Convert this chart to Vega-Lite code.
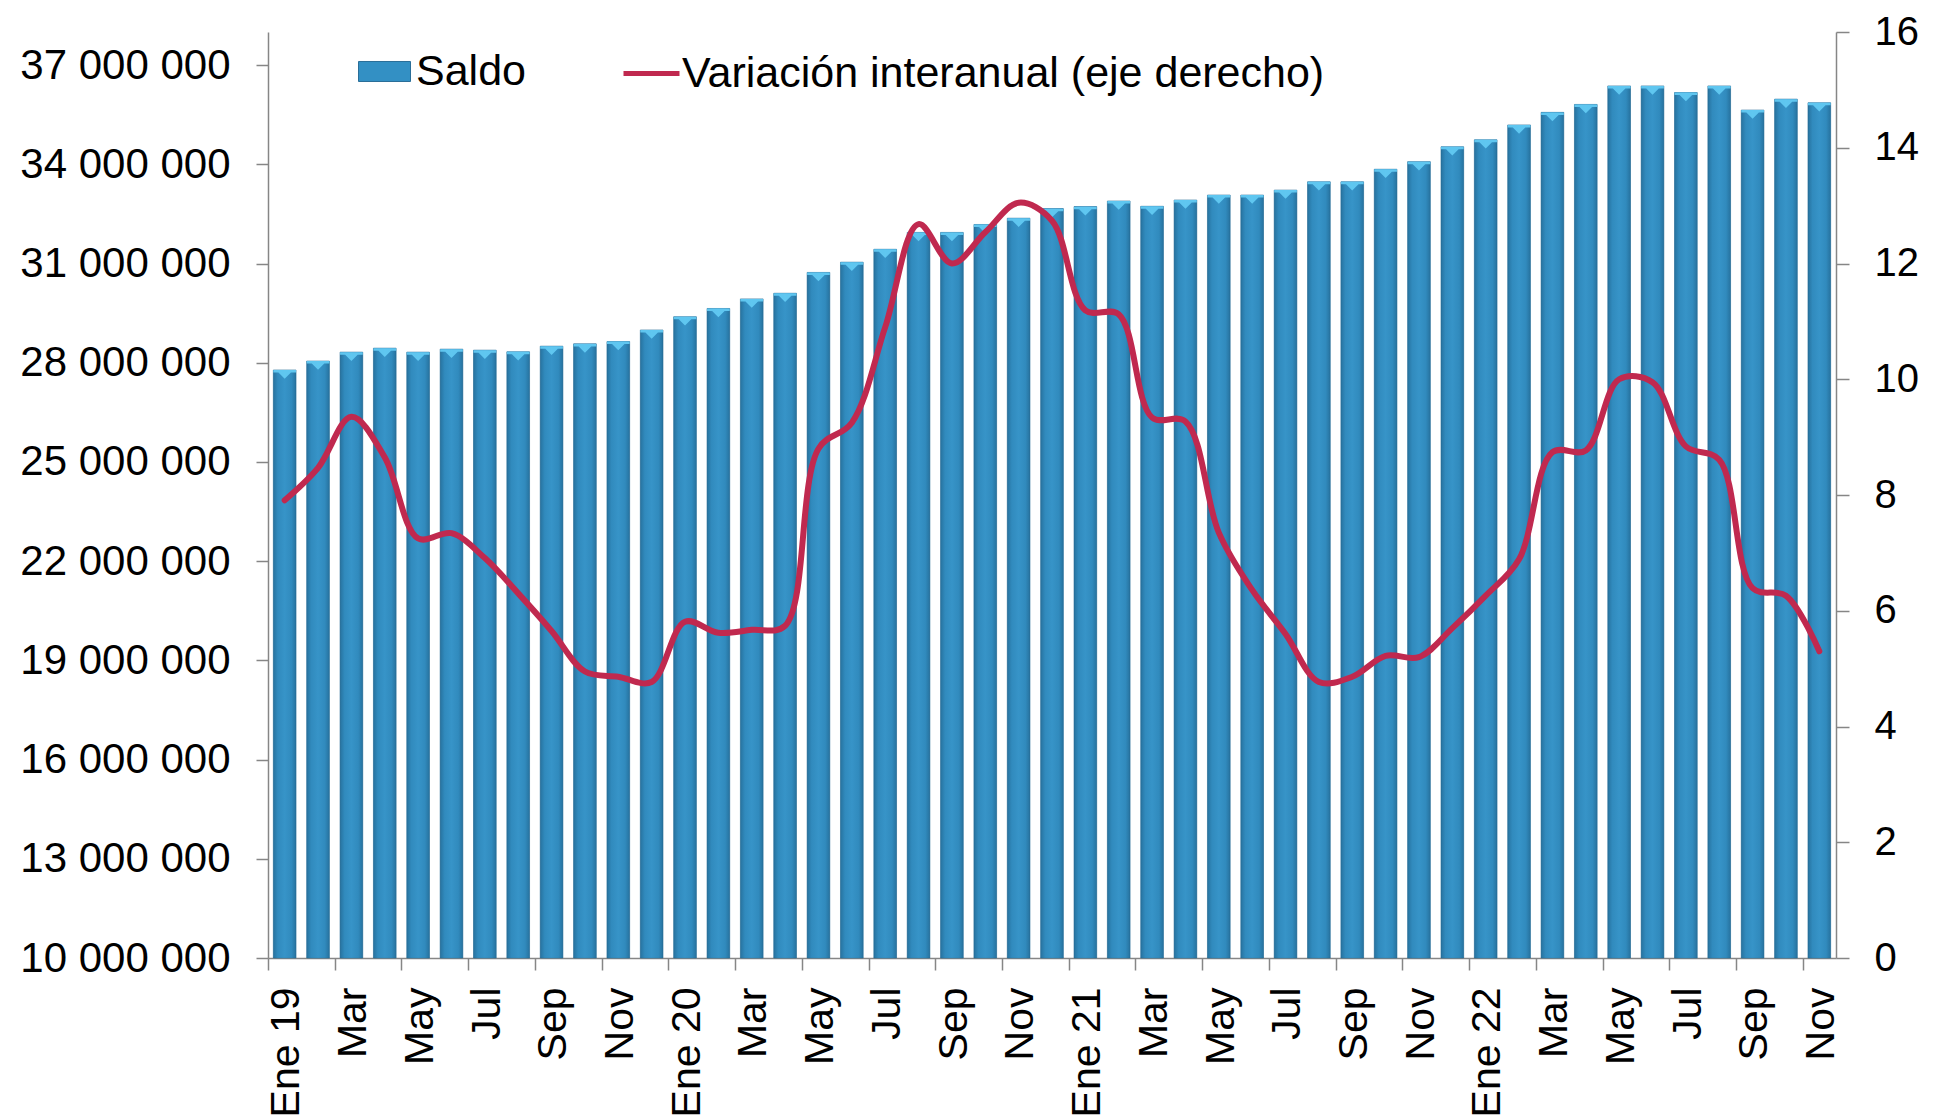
{
  "$schema": "https://vega.github.io/schema/vega-lite/v6.json",
  "width": 1568,
  "height": 926,
  "autosize": {"type": "none"},
  "padding": {"left": 268, "top": 32, "right": 103, "bottom": 160},
  "background": "white",
  "config": {
    "font": "Liberation Sans",
    "view": {"stroke": null},
    "locale": {"number": {"decimal": ",", "thousands": " ", "grouping": [3], "currency": ["", " €"]}},
    "axis": {"labelFont": "Liberation Sans", "labelColor": "#000000", "domainColor": "#868686", "tickColor": "#868686", "domainWidth": 1.5, "tickWidth": 1.5, "grid": false, "labelLimit": 400},
    "legend": {"labelFont": "Liberation Sans", "labelColor": "#000000", "labelFontSize": 43, "padding": 0, "labelLimit": 1000}
  },
  "data": {
    "values": [
      {"mes": "Ene 19", "saldo": 27780000, "variacion": 7.91},
      {"mes": "Feb 19", "saldo": 28050000, "variacion": 8.47},
      {"mes": "Mar 19", "saldo": 28320000, "variacion": 9.35},
      {"mes": "Abr 19", "saldo": 28440000, "variacion": 8.65},
      {"mes": "May 19", "saldo": 28320000, "variacion": 7.25},
      {"mes": "Jun 19", "saldo": 28410000, "variacion": 7.34},
      {"mes": "Jul 19", "saldo": 28380000, "variacion": 6.91},
      {"mes": "Ago 19", "saldo": 28330000, "variacion": 6.3},
      {"mes": "Sep 19", "saldo": 28500000, "variacion": 5.65},
      {"mes": "Oct 19", "saldo": 28570000, "variacion": 4.95},
      {"mes": "Nov 19", "saldo": 28640000, "variacion": 4.86},
      {"mes": "Dic 19", "saldo": 28990000, "variacion": 4.77},
      {"mes": "Ene 20", "saldo": 29390000, "variacion": 5.81},
      {"mes": "Feb 20", "saldo": 29640000, "variacion": 5.62},
      {"mes": "Mar 20", "saldo": 29930000, "variacion": 5.67},
      {"mes": "Abr 20", "saldo": 30100000, "variacion": 5.74},
      {"mes": "May 20", "saldo": 30730000, "variacion": 8.8},
      {"mes": "Jun 20", "saldo": 31040000, "variacion": 9.25},
      {"mes": "Jul 20", "saldo": 31430000, "variacion": 10.9},
      {"mes": "Ago 20", "saldo": 31940000, "variacion": 12.68},
      {"mes": "Sep 20", "saldo": 31940000, "variacion": 12.0},
      {"mes": "Oct 20", "saldo": 32180000, "variacion": 12.54},
      {"mes": "Nov 20", "saldo": 32370000, "variacion": 13.05},
      {"mes": "Dic 20", "saldo": 32660000, "variacion": 12.74},
      {"mes": "Ene 21", "saldo": 32720000, "variacion": 11.19},
      {"mes": "Feb 21", "saldo": 32890000, "variacion": 11.12},
      {"mes": "Mar 21", "saldo": 32730000, "variacion": 9.34},
      {"mes": "Abr 21", "saldo": 32920000, "variacion": 9.27},
      {"mes": "May 21", "saldo": 33070000, "variacion": 7.35},
      {"mes": "Jun 21", "saldo": 33070000, "variacion": 6.36},
      {"mes": "Jul 21", "saldo": 33220000, "variacion": 5.6},
      {"mes": "Ago 21", "saldo": 33470000, "variacion": 4.77},
      {"mes": "Sep 21", "saldo": 33470000, "variacion": 4.86},
      {"mes": "Oct 21", "saldo": 33850000, "variacion": 5.22},
      {"mes": "Nov 21", "saldo": 34080000, "variacion": 5.2},
      {"mes": "Dic 21", "saldo": 34530000, "variacion": 5.7},
      {"mes": "Ene 22", "saldo": 34740000, "variacion": 6.26},
      {"mes": "Feb 22", "saldo": 35190000, "variacion": 6.89},
      {"mes": "Mar 22", "saldo": 35570000, "variacion": 8.74},
      {"mes": "Abr 22", "saldo": 35810000, "variacion": 8.77},
      {"mes": "May 22", "saldo": 36370000, "variacion": 10.0},
      {"mes": "Jun 22", "saldo": 36370000, "variacion": 9.95},
      {"mes": "Jul 22", "saldo": 36170000, "variacion": 8.84},
      {"mes": "Ago 22", "saldo": 36370000, "variacion": 8.61},
      {"mes": "Sep 22", "saldo": 35640000, "variacion": 6.39},
      {"mes": "Oct 22", "saldo": 35970000, "variacion": 6.26},
      {"mes": "Nov 22", "saldo": 35860000, "variacion": 5.3}
    ]
  },
  "encoding": {
    "x": {
      "field": "mes",
      "type": "ordinal",
      "sort": null,
      "scale": {"paddingInner": 0.32, "paddingOuter": 0.16},
      "axis": {
        "title": null,
        "values": ["Ene 19", "Mar 19", "May 19", "Jul 19", "Sep 19", "Nov 19", "Ene 20", "Mar 20", "May 20", "Jul 20", "Sep 20", "Nov 20", "Ene 21", "Mar 21", "May 21", "Jul 21", "Sep 21", "Nov 21", "Ene 22", "Mar 22", "May 22", "Jul 22", "Sep 22", "Nov 22"],
        "labelExpr": "indexof(datum.value, 'Ene') == 0 ? datum.value : slice(datum.value, 0, 3)",
        "labelAngle": -90,
        "labelFontSize": 41,
        "labelPadding": 17,
        "tickSize": 12,
        "bandPosition": 0,
        "tickOffset": -5.3,
        "labelOffset": 7.5,
        "labelOverlap": false
      }
    }
  },
  "layer": [
    {
      "encoding": {
        "y": {
          "field": "saldo",
          "type": "quantitative",
          "scale": {"domain": [10000000, 38000000], "zero": false, "nice": false},
          "axis": {
            "title": null,
            "orient": "left",
            "values": [10000000, 13000000, 16000000, 19000000, 22000000, 25000000, 28000000, 31000000, 34000000, 37000000],
            "format": ",d",
            "labelFontSize": 42,
            "labelPadding": 26,
            "tickSize": 12
          }
        }
      },
      "layer": [
        {
          "mark": {"type": "bar", "stroke": "#2a6e98", "strokeWidth": 1, "strokeOpacity": 0.6},
          "encoding": {
            "y2": {"datum": 10000000},
            "color": {
              "datum": "Saldo",
              "type": "nominal",
              "scale": {"range": ["#3390c4"]},
              "legend": {
                "title": null,
                "orient": "none",
                "legendX": 90,
                "legendY": 13,
                "symbolType": "M-1,-0.385H1V0.385H-1Z",
                "symbolSize": 2704,
                "symbolStrokeColor": "#2a6e98",
                "symbolStrokeWidth": 1,
                "labelOffset": 5
              }
            }
          }
        },
        {
          "mark": {
            "type": "bar",
            "fill": {
              "gradient": "linear",
              "x1": 0, "x2": 1, "y1": 0, "y2": 0,
              "stops": [
                {"offset": 0, "color": "#1d5a80"},
                {"offset": 0.2, "color": "#2f86b8"},
                {"offset": 0.5, "color": "#3a97cb"},
                {"offset": 0.8, "color": "#2f86b8"},
                {"offset": 1, "color": "#1d5a80"}
              ]
            },
            "fillOpacity": 0.55
          },
          "encoding": {"y2": {"datum": 10000000}}
        },
        {
          "mark": {"type": "point", "shape": "M-1,-0.42H1V-0.2H0.55L0,0.35L-0.55,-0.2H-1Z", "size": 515, "filled": true, "fill": "#62c9f2", "opacity": 0.95, "strokeWidth": 0, "yOffset": 4.8}
        }
      ]
    },
    {
      "mark": {"type": "line", "interpolate": "catmull-rom", "strokeWidth": 6, "strokeCap": "round", "strokeJoin": "round"},
      "encoding": {
        "y": {
          "field": "variacion",
          "type": "quantitative",
          "scale": {"domain": [0, 16], "nice": false},
          "axis": {
            "title": null,
            "orient": "right",
            "values": [0, 2, 4, 6, 8, 10, 12, 14, 16],
            "labelFontSize": 40,
            "labelPadding": 25,
            "tickSize": 13
          }
        },
        "stroke": {
          "datum": "Variación interanual (eje derecho)",
          "type": "nominal",
          "scale": {"range": ["#c0294f"]},
          "legend": {
            "title": null,
            "orient": "none",
            "legendX": 353,
            "legendY": 11,
            "symbolType": "stroke",
            "symbolSize": 3136,
            "symbolStrokeWidth": 5,
            "labelOffset": 0
          }
        }
      }
    }
  ],
  "resolve": {"scale": {"y": "independent"}}
}
